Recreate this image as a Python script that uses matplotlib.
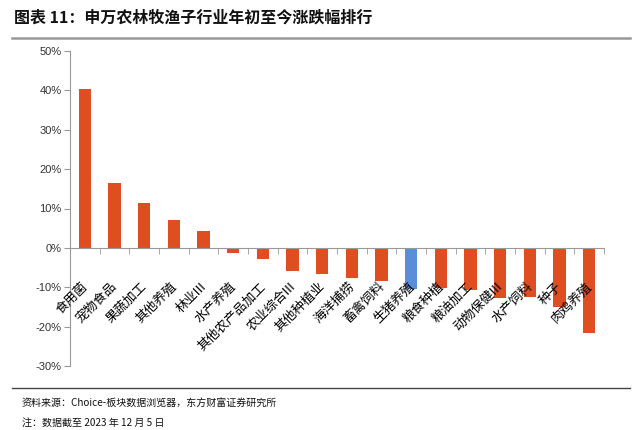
import numpy as np
import matplotlib
matplotlib.use('Agg')
import matplotlib.pyplot as plt
from matplotlib.ticker import FuncFormatter, FixedLocator
import matplotlib.transforms as mtransforms

plt.rcParams['font.family'] = ['Noto Sans CJK SC', 'DejaVu Sans']

industries = ['食用菌', '宠物食品', '果蔬加工', '其他养殖', '林业III', '水产养殖',
              '其他农产品加工', '农业综合III', '其他种植业', '海洋捕捞', '畜禽饲料',
              '生猪养殖', '粮食种植', '粮油加工', '动物保健III', '水产饲料', '种子',
              '肉鸡养殖']
change = [40.3, 16.5, 11.3, 7.1, 4.2, -1.3, -2.7, -5.8, -6.6, -7.6, -8.4,
          -10.4, -10.3, -10.8, -12.7, -12.6, -14.9, -21.5]
highlight = '生猪养殖'

orange = '#DE4E20'
blue = '#5B8ED8'

fig = plt.figure(figsize=(6.36, 4.30), dpi=100)
ax = fig.add_axes([70 / 636, 1 - 366 / 430, 534 / 636, 315 / 430])
ax.set_axisbelow(False)

x = np.arange(len(industries))
colors = [blue if n == highlight else orange for n in industries]
ax.bar(x, change, width=0.42, color=colors, zorder=2)

ax.set_xlim(-0.5, len(industries) - 0.5)
ax.set_ylim(-30, 50)
ax.set_yticks(np.arange(-30, 51, 10))
ax.yaxis.set_major_formatter(FuncFormatter(lambda v, p: '%d%%' % v))
ax.tick_params(axis='y', direction='out', length=4, color='#999999',
               labelsize=8, labelcolor='#333333', pad=2)
for lab in ax.get_yticklabels():
    lab.set_family(['Liberation Sans', 'DejaVu Sans'])

for s in ['top', 'right']:
    ax.spines[s].set_visible(False)
ax.spines['left'].set_color('#999999')
ax.spines['bottom'].set_color('#999999')
ax.spines['bottom'].set_position(('data', 0))

ax.set_xticks(x)
ax.set_xticklabels(industries, rotation=45, ha='right', va='top',
                   rotation_mode='anchor', fontsize=9.3, color='#000000')
ax.xaxis.set_minor_locator(FixedLocator(np.arange(-0.5, len(industries), 1)))
ax.tick_params(axis='x', which='major', length=0, pad=23)
ax.tick_params(axis='x', which='minor', length=4, direction='out',
               color='#999999')
offset = mtransforms.ScaledTranslation(-4 / 100, 0, fig.dpi_scale_trans)
for lab in ax.get_xticklabels():
    lab.set_transform(lab.get_transform() + offset)

# title and frame lines
fig.text(14 / 636, 1 - 18 / 430, '图表 11：申万农林牧渔子行业年初至今涨跌幅排行',
         fontsize=11.5, fontweight='bold', color='#111111', va='center')
fig.add_artist(plt.Line2D([12 / 636, 630 / 636], [1 - 38 / 430, 1 - 38 / 430],
                          color='#999999', linewidth=1.8))
fig.add_artist(plt.Line2D([12 / 636, 630 / 636], [1 - 388 / 430, 1 - 388 / 430],
                          color='#444444', linewidth=1))
fig.text(22 / 636, 1 - 403 / 430, '资料来源：Choice-板块数据浏览器，东方财富证券研究所',
         fontsize=7.2, color='#111111', va='center')
fig.text(22 / 636, 1 - 423 / 430, '注：数据截至 2023 年 12 月 5 日',
         fontsize=7.2, color='#111111', va='center')

fig.savefig('out.png', dpi=100)
